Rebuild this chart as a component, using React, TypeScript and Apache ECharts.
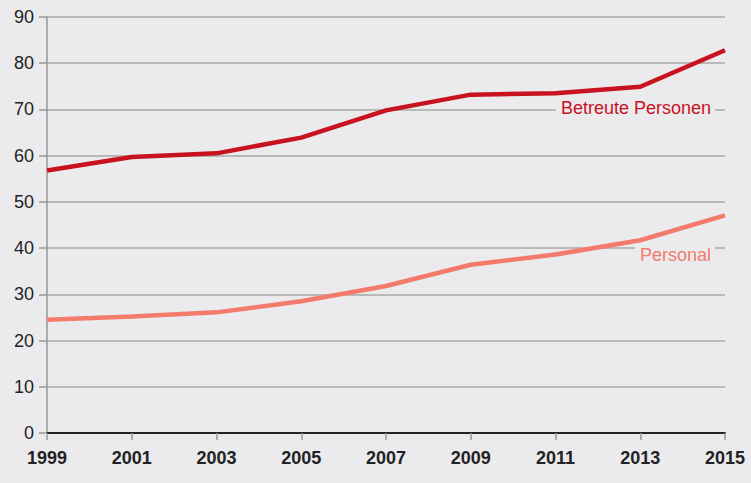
import React, { useEffect, useRef } from "react";
import * as echarts from "echarts";

const years = ["1999", "2001", "2003", "2005", "2007", "2009", "2011", "2013", "2015"];
const betreute = [56.8, 59.7, 60.5, 63.9, 69.8, 73.2, 73.5, 74.9, 82.8];
const personal = [24.5, 25.2, 26.1, 28.5, 31.8, 36.4, 38.6, 41.7, 47.1];
const yTicks = { min: 0, max: 90, interval: 10 };

const BG = "#ebebee";
const RED = "#c8121f";
const SALMON = "#f47a6c";
const FONT = "Liberation Sans, Arial, sans-serif";

export default function App() {
  const ref = useRef<HTMLDivElement>(null);
  useEffect(() => {
    const chart = echarts.init(ref.current!, null, { renderer: "svg" });
    chart.setOption({
      animation: false,
      backgroundColor: BG,
      textStyle: { fontFamily: FONT },
      grid: { left: 47, right: 26, top: 17, bottom: 50 },
      xAxis: {
        type: "category",
        data: years,
        boundaryGap: false,
        axisLine: { show: true, lineStyle: { color: "#222", width: 2 } },
        axisTick: { show: true, length: 7, lineStyle: { color: "#999", width: 1.5 } },
        axisLabel: { color: "#222", fontSize: 18, fontWeight: "bold", margin: 16 },
        splitLine: { show: false },
      },
      yAxis: {
        type: "value",
        ...yTicks,
        axisLine: { show: true, lineStyle: { color: "#999", width: 1.5 } },
        axisTick: { show: true, length: 8, lineStyle: { color: "#999", width: 1.5 } },
        axisLabel: { color: "#222", fontSize: 18, margin: 13 },
        splitLine: { show: true, lineStyle: { color: "#a8a8a8", width: 1.5 } },
      },
      series: [
        {
          type: "line",
          name: "Betreute Personen",
          data: betreute,
          symbol: "none",
          lineStyle: { color: RED, width: 4.5 },
          itemStyle: { color: RED },
          z: 3,
        },
        {
          type: "line",
          name: "Personal",
          data: personal,
          symbol: "none",
          lineStyle: { color: SALMON, width: 4.5 },
          itemStyle: { color: SALMON },
          z: 3,
        },
      ],
      graphic: [
        {
          type: "text",
          x: 715,
          y: 108,
          z: 10,
          style: {
            text: "Betreute Personen",
            fill: RED,
            font: `18px ${FONT}`,
            textAlign: "right",
            textVerticalAlign: "middle",
            backgroundColor: BG,
            padding: [2, 4, 2, 5],
          },
        },
        {
          type: "text",
          x: 715,
          y: 255,
          z: 10,
          style: {
            text: "Personal",
            fill: SALMON,
            font: `18px ${FONT}`,
            textAlign: "right",
            textVerticalAlign: "middle",
            backgroundColor: BG,
            padding: [2, 4, 2, 5],
          },
        },
      ],
    });
    return () => chart.dispose();
  }, []);
  return (
    <div
      ref={ref}
      style={{ position: "fixed", left: 0, top: 0, width: 751, height: 483 }}
    />
  );
}
